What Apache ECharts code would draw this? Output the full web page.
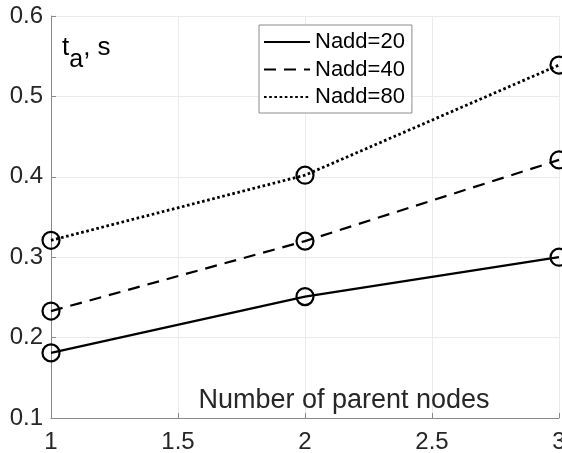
<!DOCTYPE html>
<html>
<head>
<meta charset="utf-8">
<script src="https://cdn.jsdelivr.net/npm/echarts@6/dist/echarts.min.js"></script>
<style>html,body{margin:0;padding:0;background:#fff;}#c{width:562px;height:453px;}</style>
</head>
<body>
<div id="c"></div>
<script>
const xValues = [1, 2, 3];
const nadd20 = [0.181, 0.251, 0.300];
const nadd40 = [0.233, 0.320, 0.421];
const nadd80 = [0.321, 0.402, 0.539];
const seriesNames = ['Nadd=20', 'Nadd=40', 'Nadd=80'];
const xTicks = [1, 1.5, 2, 2.5, 3];
const yTicks = [0.1, 0.2, 0.3, 0.4, 0.5, 0.6];

const FONT = 'Liberation Sans, Arial, Helvetica, sans-serif';
const pairs = ys => xValues.map((x, i) => [x, ys[i]]);
const lineTypes = ['solid', [12, 8], [2.6, 2.6]];
const lineWidths = [2.2, 2.2, 2.8];
const allData = [nadd20, nadd40, nadd80];

const chart = echarts.init(document.getElementById('c'), null, {renderer: 'canvas'});
chart.setOption({
  animation: false,
  backgroundColor: '#fff',
  grid: {left: 51, right: 3, top: 16, bottom: 35, containLabel: false, outerBoundsMode: 'none'},
  legend: {
    orient: 'vertical',
    left: 259, top: 25,
    data: seriesNames,
    itemWidth: 46, itemHeight: 14, itemGap: 5.5,
    padding: [6, 7, 5, 4],
    borderColor: '#8c8c8c', borderWidth: 1,
    backgroundColor: '#fff',
    itemStyle: {opacity: 0},
    textStyle: {fontFamily: FONT, fontSize: 22, color: '#000', lineHeight: 22}
  },
  xAxis: {
    type: 'value', min: xTicks[0], max: xTicks[xTicks.length - 1], interval: 0.5,
    name: 'Number of parent nodes', nameLocation: 'middle', nameGap: -31, nameMoveOverlap: false,
    nameTextStyle: {fontFamily: FONT, fontSize: 27, color: '#262626', align: 'center', verticalAlign: 'top', padding: [0, 0, 0, 78]},
    axisLine: {show: true, lineStyle: {color: '#8a8a8a', width: 1}},
    axisTick: {show: true, inside: true, length: 5, lineStyle: {color: '#8a8a8a'}},
    axisLabel: {fontFamily: FONT, fontSize: 24, color: '#262626', margin: 12},
    splitLine: {show: true, lineStyle: {color: '#ebebeb', width: 1}}
  },
  yAxis: {
    type: 'value', min: yTicks[0], max: yTicks[yTicks.length - 1], interval: 0.1,
    name: '{t|t}{sub|a}{t|, s}', nameLocation: 'end', nameGap: -6, nameMoveOverlap: false,
    nameTextStyle: {
      fontFamily: FONT, align: 'left', verticalAlign: 'top', padding: [0, 0, 0, 11],
      rich: {
        t: {fontFamily: FONT, fontSize: 26, color: '#000'},
        sub: {fontFamily: FONT, fontSize: 25, color: '#000', padding: [26, 0, 0, 0]}
      }
    },
    axisLine: {show: true, lineStyle: {color: '#8a8a8a', width: 1}},
    axisTick: {show: true, inside: true, length: 5, lineStyle: {color: '#8a8a8a'}},
    axisLabel: {fontFamily: FONT, fontSize: 24, color: '#262626', margin: 8,
      formatter: v => (Math.round(v * 10) / 10).toFixed(1)},
    splitLine: {show: true, lineStyle: {color: '#ebebeb', width: 1}}
  },
  series: seriesNames.map((name, i) => ({
    name: name,
    type: 'line',
    data: pairs(allData[i]),
    symbol: 'circle',
    symbolSize: 17,
    lineStyle: {color: '#000', width: lineWidths[i], type: lineTypes[i]},
    itemStyle: {color: 'rgba(255,255,255,0)', borderColor: '#000', borderWidth: 2.2},
    emphasis: {disabled: true}
  }))
});
</script>
</body>
</html>
